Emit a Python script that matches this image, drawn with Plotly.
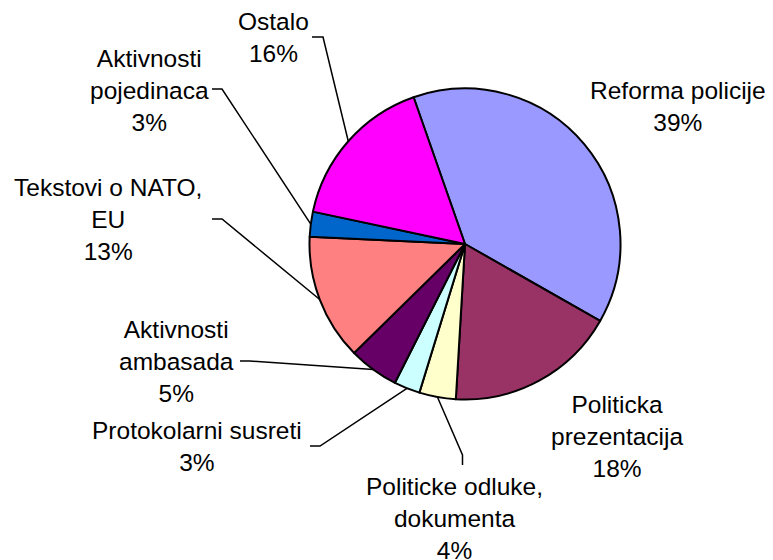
import math
import plotly.graph_objects as go

# ---- data ----
labels = ["Reforma policije", "Politicka prezentacija", "Politicke odluke, dokumenta",
          "Protokolarni susreti", "Aktivnosti ambasada", "Tekstovi o NATO, EU",
          "Aktivnosti pojedinaca", "Ostalo"]
display_labels = ["Reforma policije", "Politicka<br>prezentacija", "Politicke odluke,<br>dokumenta",
                  "Protokolarni susreti", "Aktivnosti<br>ambasada", "Tekstovi o NATO,<br>EU",
                  "Aktivnosti<br>pojedinaca", "Ostalo"]
values = [38.6, 17.7, 3.8, 2.7, 5.2, 13.1, 2.6, 16.3]
colors = ["#9999FF", "#993366", "#FFFFCC", "#CCFFFF", "#660066", "#FF8080", "#0066CC", "#FF00FF"]

# ---- layout constants ----
OFF = 8                      # default page body margin
W, H = 773 - OFF, 560 - OFF  # figure size so it fits the window
CX, CY, R = 465, 244, 155.5  # pie centre/radius in window pixels
ROTATION = -19.3
FONT = "Liberation Sans, Arial, sans-serif"
FS = 24.5

# label block centres (window px) and leader-line label-side points; None = no leader
label_pos = [(678, 106), (617, 436), (454, 518), (197, 446), (176, 361), (108, 219), (149, 90), (273, 37)]
leader_pts = [None, None,
              [(462.5, 465), (462.5, 455)],
              [(310, 446), (320, 446)],
              [(240, 361), (250, 361)],
              [(212, 219), (222, 219)],
              [(212, 89), (222, 89)],
              [(312, 37), (323, 37)]]


def px(x):
    return (x - OFF) / W


def py(y):
    return 1 - (y - OFF) / H


fig = go.Figure(go.Pie(
    labels=labels, values=values, sort=False, direction="clockwise",
    rotation=ROTATION, textinfo="none", textposition="none",
    marker=dict(colors=colors, line=dict(color="black", width=2)),
    domain=dict(x=[px(CX - R), px(CX + R)], y=[py(CY + R), py(CY - R)]),
    hoverinfo="label+percent", showlegend=False,
))

total = sum(values)
angle = ROTATION
annotations = []
shapes = []
for i, v in enumerate(values):
    span = v / total * 360
    mid = math.radians(angle + span / 2)
    angle += span
    ex, ey = CX + R * math.sin(mid), CY - R * math.cos(mid)
    pct = round(v / total * 100)
    lx, ly = label_pos[i]
    annotations.append(dict(
        x=px(lx), y=py(ly), xref="paper", yref="paper", showarrow=False,
        text=f"{display_labels[i]}<br>{pct}%", align="center",
        xanchor="center", yanchor="middle",
        font=dict(family=FONT, size=FS, color="black"),
    ))
    if leader_pts[i]:
        (ax, ay), (bx, by) = leader_pts[i]
        path = f"M {px(ax)} {py(ay)} L {px(bx)} {py(by)} L {px(ex)} {py(ey)}"
        shapes.append(dict(type="path", xref="paper", yref="paper", path=path,
                           line=dict(color="black", width=1.5)))

fig.update_layout(
    width=W, height=H, margin=dict(l=0, r=0, t=0, b=0),
    paper_bgcolor="white", plot_bgcolor="white",
    annotations=annotations, shapes=shapes,
)

fig.write_html("out.html")
